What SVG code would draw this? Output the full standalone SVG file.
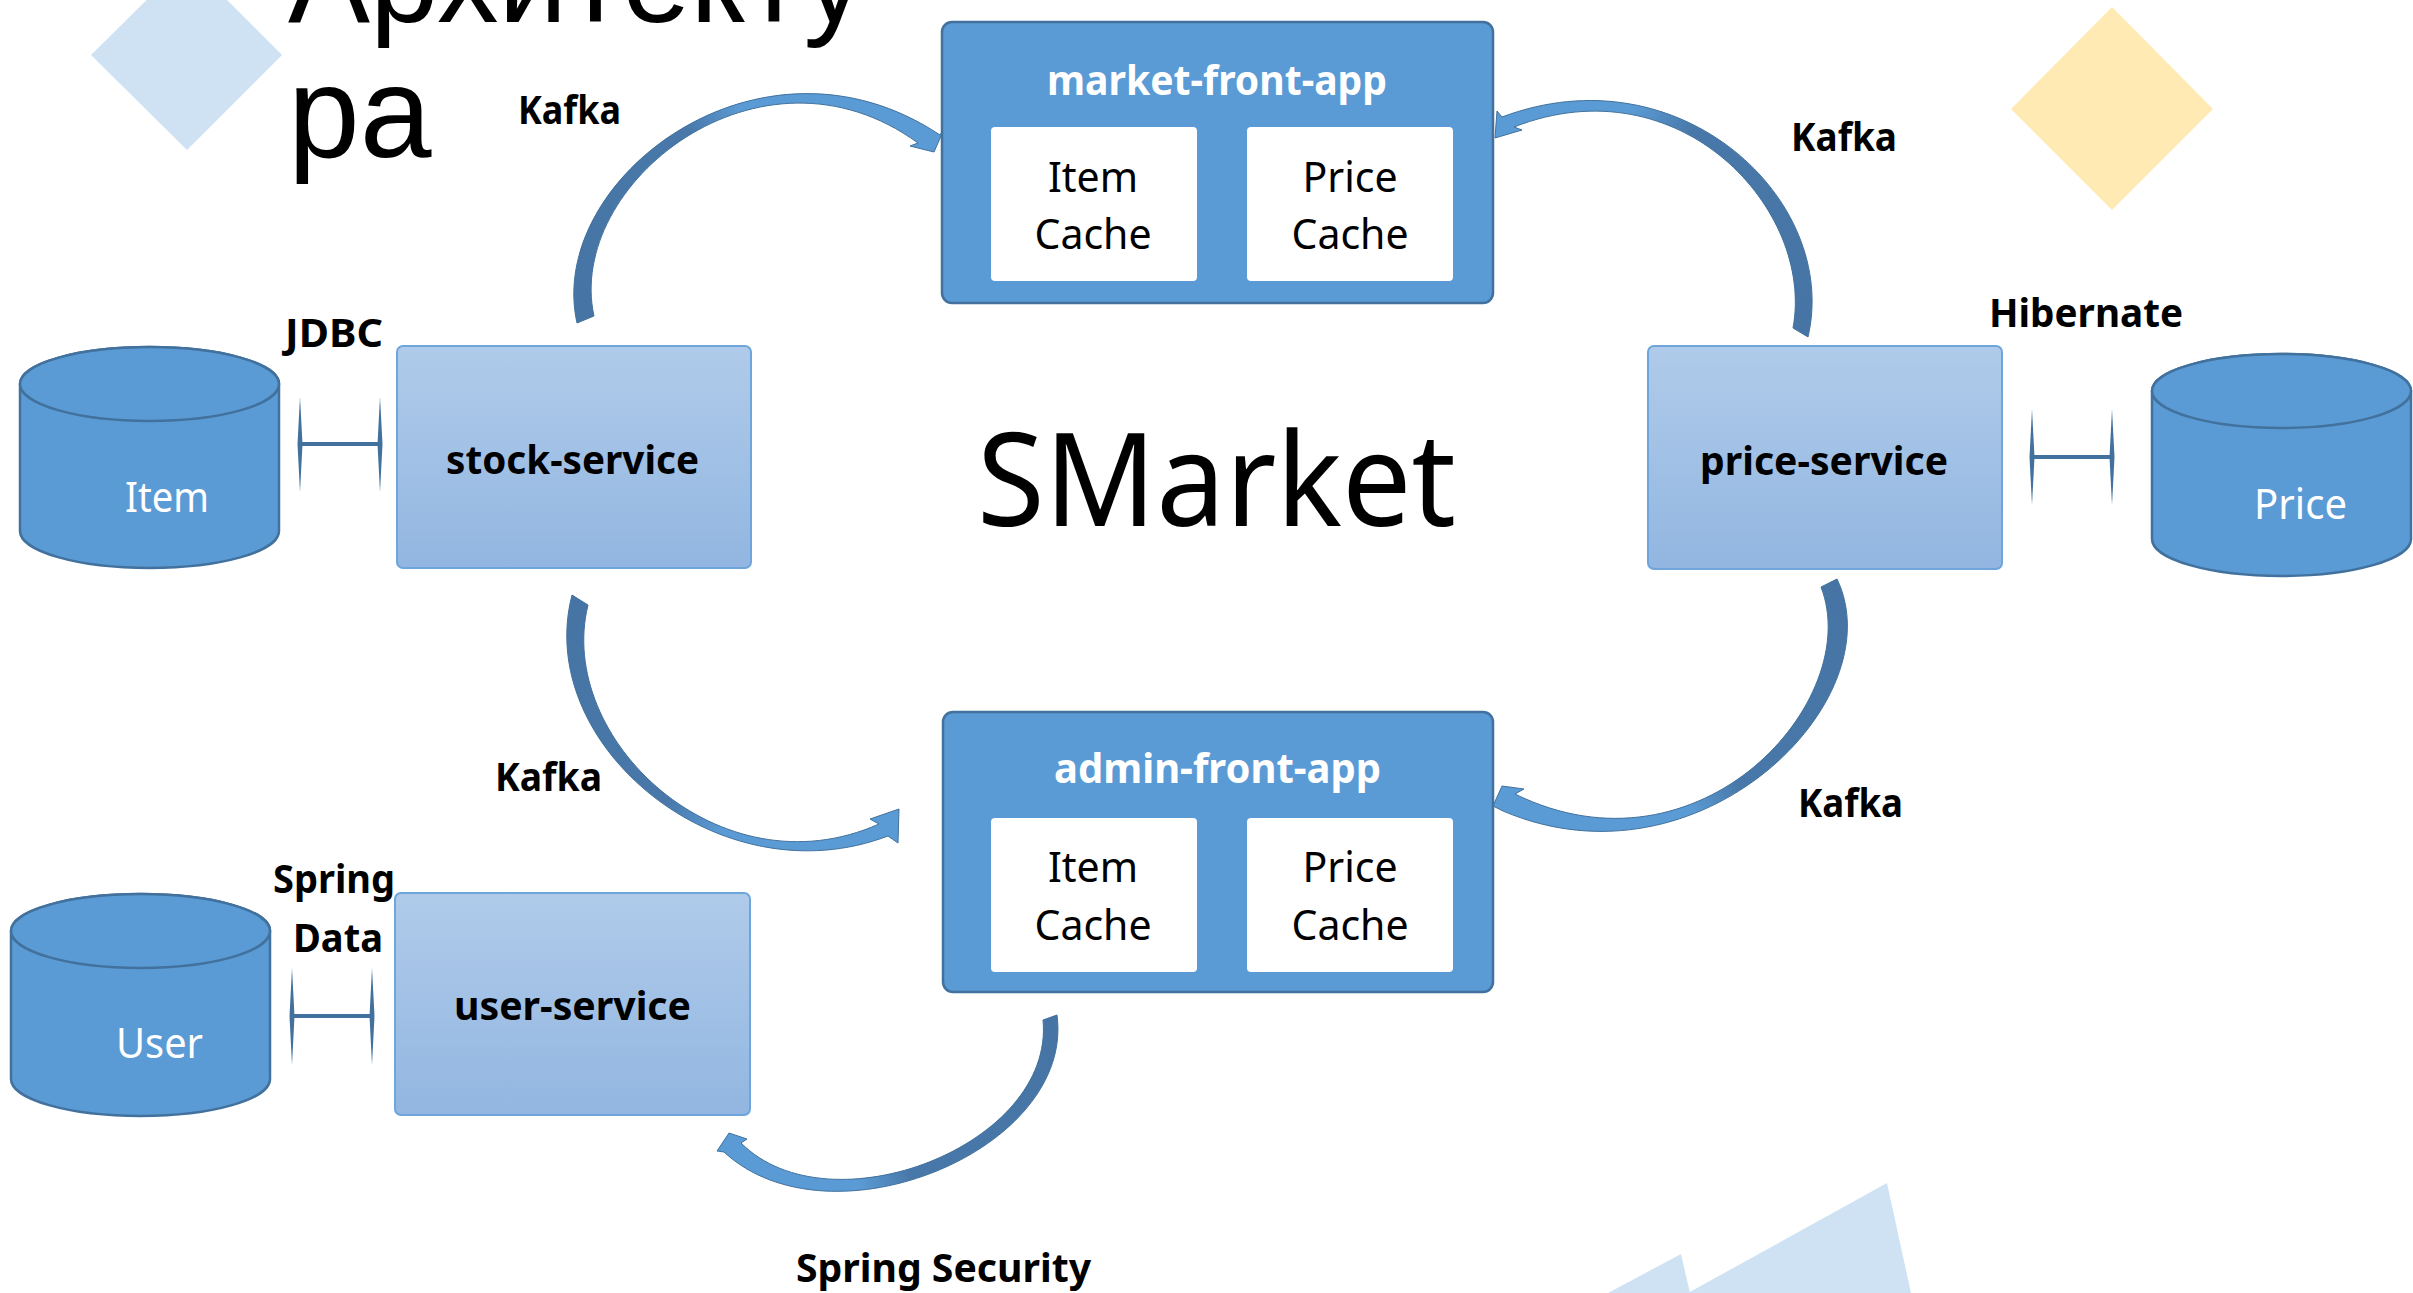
<svg xmlns="http://www.w3.org/2000/svg" width="2413" height="1293" viewBox="0 0 2413 1293">
<defs>
<style>
.lbl{font-family:"Noto Sans","Open Sans",sans-serif;font-weight:bold;fill:#000}
.svc{font-family:"Noto Sans","Open Sans",sans-serif;font-weight:bold;font-size:40px;fill:#000}
.app{font-family:"Noto Sans","Open Sans",sans-serif;font-weight:bold;font-size:41px;fill:#fff}
.cache{font-family:"Noto Sans","Open Sans",sans-serif;font-size:41px;fill:#000;text-anchor:middle}
.dbt{font-family:"Noto Sans","Open Sans",sans-serif;font-size:42px;fill:#fff}
.svcbox{fill:url(#svcg);stroke:#6ea6dc;stroke-width:2}
.appbox{fill:#5b9bd5;stroke:#41719c;stroke-width:2.5}
.inner{fill:#fff}
.db{fill:#5b9bd5;stroke:#41719c;stroke-width:2.5}
.conn{fill:#41719c;stroke:none}
.hline{stroke:#41719c;stroke-width:4}
.arrow{stroke:#41719c;stroke-width:1;stroke-linejoin:round}
.deco-blue{fill:#cfe2f3}
.deco-yellow{fill:#ffeab3}
</style>
<linearGradient id="svcg" x1="0" y1="0" x2="0" y2="1">
<stop offset="0" stop-color="#b0cbea"/>
<stop offset="1" stop-color="#92b6e1"/>
</linearGradient>
<linearGradient id="ag1" gradientUnits="userSpaceOnUse" x1="585" y1="320" x2="935" y2="145">
<stop offset="0" stop-color="#4675a5"/><stop offset="0.45" stop-color="#4878a9"/><stop offset="0.6" stop-color="#5b9bd5"/><stop offset="1" stop-color="#5b9bd5"/>
</linearGradient>
<linearGradient id="ag2" gradientUnits="userSpaceOnUse" x1="1800" y1="332" x2="1497" y2="125">
<stop offset="0" stop-color="#4675a5"/><stop offset="0.55" stop-color="#4878a9"/><stop offset="0.72" stop-color="#5b9bd5"/><stop offset="1" stop-color="#5b9bd5"/>
</linearGradient>
<linearGradient id="ag3" gradientUnits="userSpaceOnUse" x1="580" y1="600" x2="885" y2="825">
<stop offset="0" stop-color="#4675a5"/><stop offset="0.5" stop-color="#4878a9"/><stop offset="0.66" stop-color="#5b9bd5"/><stop offset="1" stop-color="#5b9bd5"/>
</linearGradient>
<linearGradient id="ag4" gradientUnits="userSpaceOnUse" x1="1829" y1="583" x2="1505" y2="800">
<stop offset="0" stop-color="#4675a5"/><stop offset="0.48" stop-color="#4878a9"/><stop offset="0.62" stop-color="#5b9bd5"/><stop offset="1" stop-color="#5b9bd5"/>
</linearGradient>
<linearGradient id="ag5" gradientUnits="userSpaceOnUse" x1="1050" y1="1017" x2="732" y2="1140">
<stop offset="0" stop-color="#4675a5"/><stop offset="0.55" stop-color="#4878a9"/><stop offset="0.7" stop-color="#5b9bd5"/><stop offset="1" stop-color="#5b9bd5"/>
</linearGradient>
</defs>

<rect width="2413" height="1293" fill="#fff"/>

<g id="decor">
<polygon class="deco-blue" points="187,-40 282,55 187,150 91,55"/>
<polygon class="deco-yellow" points="2112,7 2213,109 2112,210 2011,109"/>
<polygon class="deco-blue" points="1681,1254 1690,1293 1608,1293"/>
<polygon class="deco-blue" points="1887,1183 1911,1293 1688,1293"/>
</g>

<g id="title">
<text x="288" y="22" font-family="'Liberation Sans',Arial,sans-serif" font-size="127" textLength="577" lengthAdjust="spacingAndGlyphs" fill="#000">Архитекту</text>
<text x="288" y="157" font-family="'Liberation Sans',Arial,sans-serif" font-size="129" fill="#000">ра</text>
</g>

<g id="smarket-title">
<text x="977" y="526" font-family="'Noto Sans','Open Sans',sans-serif" font-size="130" textLength="479" lengthAdjust="spacingAndGlyphs" fill="#000">SMarket</text>
</g>

<g id="connectors">
<path id="arrow-stock-market" class="arrow" fill="url(#ag1)" d="M577,323 C545,180 760,15 940,135 L945,127 L934,152 L910,146 L918,143 C760,28 565,185 594,316 Z"/>
<path id="arrow-price-market" class="arrow" fill="url(#ag2)" d="M1808,337 C1840,200 1680,50 1502,117 L1497,111 L1495,138 L1522,130 L1514,127 C1680,62 1815,210 1793,328 Z"/>
<path id="arrow-stock-admin" class="arrow" fill="url(#ag3)" d="M572,595 C533,745 720,900 888,836 L898,843 L899,809 L870,819 L879,824 C720,895 555,738 588,605 Z"/>
<path id="arrow-price-admin" class="arrow" fill="url(#ag4)" d="M1837,579 C1895,700 1700,895 1503,811 L1493,806 L1502,786 L1524,789 L1515,794 C1700,885 1865,700 1821,587 Z"/>
<path id="arrow-admin-user" class="arrow" fill="url(#ag5)" d="M1057,1015 C1075,1150 830,1250 724,1152 L717,1151 L729,1133 L747,1139 L741,1143 C830,1232 1055,1145 1043,1020 Z"/>

<g id="link-jdbc">
<line class="hline" x1="300" y1="444" x2="380" y2="444"/>
<polygon class="conn" points="300,397 302.5,444 300,492 297.5,444"/>
<polygon class="conn" points="380,397 382.5,444 380,492 377.5,444"/>
</g>
<g id="link-hibernate">
<line class="hline" x1="2032" y1="457" x2="2112" y2="457"/>
<polygon class="conn" points="2032,409 2034.5,457 2032,505 2029.5,457"/>
<polygon class="conn" points="2112,409 2114.5,457 2112,505 2109.5,457"/>
</g>
<g id="link-springdata">
<line class="hline" x1="292" y1="1016" x2="372" y2="1016"/>
<polygon class="conn" points="292,968 294.5,1016 292,1065 289.5,1016"/>
<polygon class="conn" points="372,968 374.5,1016 372,1065 369.5,1016"/>
</g>

<text class="lbl" x="518" y="124" font-size="39" textLength="103" lengthAdjust="spacingAndGlyphs">Kafka</text>
<text class="lbl" x="1791" y="151" font-size="39" textLength="106" lengthAdjust="spacingAndGlyphs">Kafka</text>
<text class="lbl" x="495" y="791" font-size="39" textLength="107" lengthAdjust="spacingAndGlyphs">Kafka</text>
<text class="lbl" x="1798" y="817" font-size="39" textLength="105" lengthAdjust="spacingAndGlyphs">Kafka</text>
<text class="lbl" x="285" y="347" font-size="40" textLength="98" lengthAdjust="spacingAndGlyphs">JDBC</text>
<text class="lbl" x="1989" y="327" font-size="39" textLength="194" lengthAdjust="spacingAndGlyphs">Hibernate</text>
<text class="lbl" x="273" y="893" font-size="39" textLength="122" lengthAdjust="spacingAndGlyphs">Spring</text>
<text class="lbl" x="293" y="952" font-size="39" textLength="90" lengthAdjust="spacingAndGlyphs">Data</text>
<text class="lbl" x="796" y="1282" font-size="39" textLength="295" lengthAdjust="spacingAndGlyphs">Spring Security</text>
</g>

<g id="market-front-app">
<rect class="appbox" x="942" y="22" width="551" height="281" rx="10"/>
<text class="app" x="1047" y="95" textLength="340" lengthAdjust="spacingAndGlyphs">market-front-app</text>
<rect class="inner" x="991" y="127" width="206" height="154" rx="4"/>
<rect class="inner" x="1247" y="127" width="206" height="154" rx="4"/>
<text class="cache" x="1093" y="192">Item</text>
<text class="cache" x="1093" y="249">Cache</text>
<text class="cache" x="1350" y="192">Price</text>
<text class="cache" x="1350" y="249">Cache</text>
</g>

<g id="admin-front-app">
<rect class="appbox" x="943" y="712" width="550" height="280" rx="10"/>
<text class="app" x="1054" y="783" textLength="327" lengthAdjust="spacingAndGlyphs">admin-front-app</text>
<rect class="inner" x="991" y="818" width="206" height="154" rx="4"/>
<rect class="inner" x="1247" y="818" width="206" height="154" rx="4"/>
<text class="cache" x="1093" y="882">Item</text>
<text class="cache" x="1093" y="940">Cache</text>
<text class="cache" x="1350" y="882">Price</text>
<text class="cache" x="1350" y="940">Cache</text>
</g>

<g id="stock-service">
<rect class="svcbox" x="397" y="346" width="354" height="222" rx="6"/>
<text class="svc" x="446" y="474" textLength="253" lengthAdjust="spacingAndGlyphs">stock-service</text>
</g>

<g id="price-service">
<rect class="svcbox" x="1648" y="346" width="354" height="223" rx="6"/>
<text class="svc" x="1700" y="475" textLength="248" lengthAdjust="spacingAndGlyphs">price-service</text>
</g>

<g id="user-service">
<rect class="svcbox" x="395" y="893" width="355" height="222" rx="6"/>
<text class="svc" x="454" y="1020" textLength="237" lengthAdjust="spacingAndGlyphs">user-service</text>
</g>

<g id="db-item">
<path class="db" d="M20,384 A129.5,37 0 0 1 279,384 V531 A129.5,37 0 0 1 20,531 Z"/>
<ellipse class="db" cx="149.5" cy="384" rx="129.5" ry="37"/>
<text class="dbt" x="125" y="512" textLength="84" lengthAdjust="spacingAndGlyphs">Item</text>
</g>

<g id="db-user">
<path class="db" d="M11,931 A129.5,37 0 0 1 270,931 V1079 A129.5,37 0 0 1 11,1079 Z"/>
<ellipse class="db" cx="140.5" cy="931" rx="129.5" ry="37"/>
<text class="dbt" x="116" y="1058" textLength="87" lengthAdjust="spacingAndGlyphs">User</text>
</g>

<g id="db-price">
<path class="db" d="M2152,391 A129.5,37 0 0 1 2411,391 V539 A129.5,37 0 0 1 2152,539 Z"/>
<ellipse class="db" cx="2281.5" cy="391" rx="129.5" ry="37"/>
<text class="dbt" x="2254" y="519" textLength="93" lengthAdjust="spacingAndGlyphs">Price</text>
</g>
</svg>
